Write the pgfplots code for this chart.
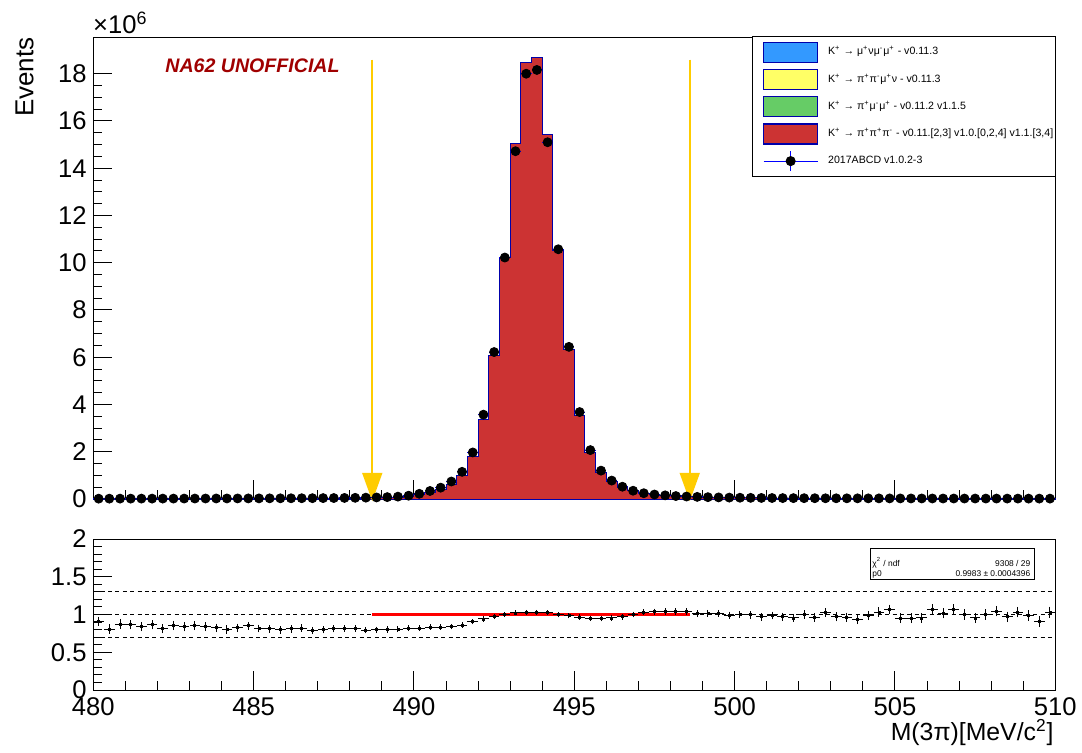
\documentclass[border=0pt]{standalone}
\usepackage{fontspec}
\setmainfont{Liberation Sans}
\usepackage{pgfplots}
\usepackage{pgfplotstable}
\pgfplotsset{compat=1.18}

\definecolor{mublue}{RGB}{51,153,255}
\definecolor{pipiyel}{RGB}{255,255,102}
\definecolor{mumugreen}{RGB}{102,204,102}
\definecolor{kthreered}{RGB}{204,51,51}
\definecolor{histline}{RGB}{0,0,170}
\definecolor{datablue}{RGB}{0,0,255}
\definecolor{arrowgold}{RGB}{255,204,0}
\definecolor{na62red}{RGB}{160,0,0}

% xe = bin low edge, xc = bin centre, d = data (x10^6), r = ratio, ey = ratio error, mc = stacked MC (x10^6)
\pgfplotstableread{
xe xc d r ey mc
480.0000 480.1667 0.015 0.910 0.030 0.0137
480.3333 480.5000 0.015 0.806 0.030 0.0121
480.6667 480.8333 0.016 0.874 0.030 0.0140
481.0000 481.1667 0.016 0.865 0.030 0.0138
481.3333 481.5000 0.017 0.842 0.030 0.0143
481.6667 481.8333 0.017 0.865 0.030 0.0147
482.0000 482.1667 0.018 0.811 0.030 0.0146
482.3333 482.5000 0.018 0.856 0.030 0.0154
482.6667 482.8333 0.019 0.838 0.030 0.0159
483.0000 483.1667 0.020 0.851 0.025 0.0170
483.3333 483.5000 0.021 0.838 0.025 0.0176
483.6667 483.8333 0.022 0.824 0.025 0.0181
484.0000 484.1667 0.023 0.802 0.025 0.0184
484.3333 484.5000 0.024 0.824 0.025 0.0198
484.6667 484.8333 0.025 0.851 0.020 0.0213
485.0000 485.1667 0.026 0.815 0.020 0.0212
485.3333 485.5000 0.028 0.811 0.020 0.0227
485.6667 485.8333 0.029 0.797 0.018 0.0231
486.0000 486.1667 0.031 0.811 0.018 0.0251
486.3333 486.5000 0.033 0.820 0.018 0.0271
486.6667 486.8333 0.035 0.788 0.016 0.0276
487.0000 487.1667 0.038 0.797 0.016 0.0303
487.3333 487.5000 0.041 0.811 0.015 0.0333
487.6667 487.8333 0.045 0.815 0.014 0.0367
488.0000 488.1667 0.050 0.815 0.013 0.0408
488.3333 488.5000 0.057 0.793 0.012 0.0452
488.6667 488.8333 0.066 0.797 0.011 0.0526
489.0000 489.1667 0.080 0.802 0.010 0.0642
489.3333 489.5000 0.100 0.806 0.009 0.0806
489.6667 489.8333 0.140 0.820 0.008 0.1148
490.0000 490.1667 0.220 0.820 0.007 0.1804
490.3333 490.5000 0.340 0.833 0.006 0.2832
490.6667 490.8333 0.480 0.833 0.005 0.3998
491.0000 491.1667 0.740 0.838 0.004 0.6201
491.3333 491.5000 1.150 0.860 0.004 0.9890
491.6667 491.8333 1.970 0.905 0.003 1.7829
492.0000 492.1667 3.570 0.941 0.003 3.3594
492.3333 492.5000 6.220 0.977 0.002 6.0769
492.6667 492.8333 10.220 1.000 0.002 10.220
493.0000 493.1667 14.720 1.021 0.002 15.029
493.3333 493.5000 18.000 1.026 0.002 18.468
493.6667 493.8333 18.160 1.029 0.002 18.687
494.0000 494.1667 15.100 1.022 0.002 15.432
494.3333 494.5000 10.570 0.995 0.002 10.517
494.6667 494.8333 6.440 0.984 0.002 6.337
495.0000 495.1667 3.680 0.966 0.003 3.555
495.3333 495.5000 2.070 0.946 0.003 1.958
495.6667 495.8333 1.200 0.946 0.004 1.135
496.0000 496.1667 0.780 0.955 0.005 0.745
496.3333 496.5000 0.520 0.969 0.006 0.504
496.6667 496.8333 0.350 1.000 0.007 0.350
497.0000 497.1667 0.245 1.031 0.008 0.2526
497.3333 497.5000 0.190 1.036 0.009 0.1968
497.6667 497.8333 0.155 1.041 0.010 0.1614
498.0000 498.1667 0.125 1.041 0.011 0.1301
498.3333 498.5000 0.105 1.036 0.012 0.1088
498.6667 498.8333 0.090 1.009 0.013 0.0908
499.0000 499.1667 0.078 1.014 0.014 0.0791
499.3333 499.5000 0.068 1.014 0.015 0.0690
499.6667 499.8333 0.060 0.991 0.016 0.0595
500.0000 500.1667 0.054 1.000 0.017 0.0540
500.3333 500.5000 0.049 0.995 0.018 0.0488
500.6667 500.8333 0.045 0.969 0.019 0.0436
501.0000 501.1667 0.042 0.986 0.020 0.0414
501.3333 501.5000 0.039 0.973 0.021 0.0379
501.6667 501.8333 0.037 0.955 0.022 0.0353
502.0000 502.1667 0.035 1.000 0.023 0.0350
502.3333 502.5000 0.033 0.964 0.025 0.0318
502.6667 502.8333 0.031 1.023 0.026 0.0317
503.0000 503.1667 0.030 0.969 0.027 0.0291
503.3333 503.5000 0.029 0.964 0.028 0.0280
503.6667 503.8333 0.028 0.932 0.029 0.0261
504.0000 504.1667 0.027 0.986 0.030 0.0266
504.3333 504.5000 0.026 1.031 0.031 0.0268
504.6667 504.8333 0.025 1.068 0.032 0.0267
505.0000 505.1667 0.024 0.950 0.032 0.0228
505.3333 505.5000 0.023 0.950 0.033 0.0219
505.6667 505.8333 0.023 0.955 0.033 0.0220
506.0000 506.1667 0.022 1.068 0.034 0.0235
506.3333 506.5000 0.021 1.014 0.034 0.0213
506.6667 506.8333 0.021 1.068 0.035 0.0224
507.0000 507.1667 0.020 1.000 0.035 0.0200
507.3333 507.5000 0.020 0.955 0.036 0.0191
507.6667 507.8333 0.019 1.000 0.036 0.0190
508.0000 508.1667 0.019 1.045 0.037 0.0199
508.3333 508.5000 0.018 0.969 0.037 0.0174
508.6667 508.8333 0.018 1.031 0.038 0.0186
509.0000 509.1667 0.017 0.986 0.038 0.0168
509.3333 509.5000 0.017 0.905 0.039 0.0154
509.6667 509.8333 0.016 1.031 0.040 0.0165
510.0000 nan nan nan nan 0.0165
}\bins

\pgfplotsset{
  rootaxis/.style={
    scale only axis, width=481pt,
    xmin=480, xmax=510,
    tick align=inside, xtick pos=bottom, ytick pos=left,
    xtick={480,485,...,510}, minor x tick num=4,
    major tick length=9.5pt, minor tick length=4.5pt,
    tick style={black, line width=0.5pt},
    axis line style={line width=0.5pt},
    /pgf/number format/assume math mode=true,
    tick label style={font=\fontsize{12.8}{14}\selectfont},
    yticklabel style={inner sep=0pt, xshift=-3.2pt},
    xticklabel style={inner sep=0pt, yshift=-3.6pt},
    clip=false,
  },
  swatch/.style={legend image code/.code={%
    \path (-5pt,0pt) (31.5pt,0pt);
    \draw[fill=#1, draw=histline, line width=0.6pt] (0pt,-5pt) rectangle (27pt,5pt);}},
}

\begin{document}
\begin{tikzpicture}
\path[use as bounding box] (0,0) rectangle (541pt,376pt);

\begin{axis}[rootaxis,
    at={(46.65pt,126.5pt)}, anchor=south west,
    height=230.6pt,
    ymin=0, ymax=19.52,
    ytick={0,2,...,18}, minor y tick num=3,
    xticklabels={},
    legend cell align=left,
    legend style={at={(1,1)}, anchor=north east, xshift=0.2pt, yshift=0.8pt,
        draw=black, line width=0.5pt, fill=white,
        font=\fontsize{5.3}{6.4}\selectfont,
        inner xsep=0.5pt, inner ysep=2.5pt, row sep=3.0pt,
        nodes={inner xsep=0.5pt, inner ysep=0pt}},
]
% stacked MC (only the K -> 3pi component is visible)
\addplot[const plot, fill=kthreered, draw=histline, line width=0.5pt, forget plot]
    table[x=xe, y=mc] {\bins} \closedcycle;

% cut arrows
\draw[arrowgold, line width=1pt] (axis cs:488.7,18.6) -- (axis cs:488.7,1.0);
\fill[arrowgold] (axis cs:488.38,1.11) -- (axis cs:489.02,1.11) -- (axis cs:488.7,-0.09) -- cycle;
\draw[arrowgold, line width=1pt] (axis cs:498.6,18.6) -- (axis cs:498.6,1.0);
\fill[arrowgold] (axis cs:498.28,1.11) -- (axis cs:498.92,1.11) -- (axis cs:498.6,-0.09) -- cycle;

% data
\addplot[only marks, mark=*, mark size=2.25pt, black, forget plot,
    error bars/.cd, x dir=both, x fixed=0.16667, error mark=none,
    error bar style={datablue, line width=0.5pt}]
    table[x=xc, y=d] {\bins};

\addlegendimage{swatch=mublue}
\addlegendentry{K\textsuperscript{+} → μ\textsuperscript{+}νμ\textsuperscript{-}μ\textsuperscript{+} - v0.11.3}
\addlegendimage{swatch=pipiyel}
\addlegendentry{K\textsuperscript{+} → π\textsuperscript{+}π\textsuperscript{-}μ\textsuperscript{+}ν - v0.11.3}
\addlegendimage{swatch=mumugreen}
\addlegendentry{K\textsuperscript{+} → π\textsuperscript{+}μ\textsuperscript{-}μ\textsuperscript{+} - v0.11.2 v1.1.5}
\addlegendimage{swatch=kthreered}
\addlegendentry{K\textsuperscript{+} → π\textsuperscript{+}π\textsuperscript{+}π\textsuperscript{-} - v0.11.[2,3] v1.0.[0,2,4] v1.1.[3,4]}
\addlegendimage{legend image code/.code={\path (-5pt,0pt) (31.5pt,0pt); \draw[datablue, line width=0.6pt] (0pt,0pt) -- (27pt,0pt); \draw[datablue, line width=0.6pt] (13.5pt,-5pt) -- (13.5pt,5pt); \fill[black] (13.5pt,0pt) circle (2.25pt);}}
\addlegendentry{2017ABCD v1.0.2-3}
\end{axis}

\begin{axis}[rootaxis,
    at={(46.65pt,31pt)}, anchor=south west,
    height=75.5pt,
    ymin=0, ymax=2,
    ytick={0,0.5,1,1.5,2}, minor y tick num=4,
]
\addplot[black, line width=0.4pt, dash pattern=on 2pt off 1.7pt, forget plot] coordinates {(480,1.3) (510,1.3)};
\addplot[black, line width=0.4pt, dash pattern=on 2pt off 1.7pt, forget plot] coordinates {(480,1.0) (510,1.0)};
\addplot[black, line width=0.4pt, dash pattern=on 2pt off 1.7pt, forget plot] coordinates {(480,0.7) (510,0.7)};
% constant fit
\addplot[red, line width=1.2pt, forget plot] coordinates {(488.7,0.9983) (498.6,0.9983)};
% ratio
\addplot[black, only marks, mark=square*, mark size=0.5pt, forget plot,
    error bars/.cd, x dir=both, x fixed=0.16667, error mark=none,
    error bar style={black, line width=0.5pt}]
    table[x=xc, y=r] {\bins};
\addplot[black, only marks, mark=square*, mark size=0.5pt, forget plot,
    error bars/.cd, y dir=both, y explicit,
    error bar style={black, line width=0.5pt},
    error mark options={black, mark size=1.2pt, line width=0.5pt}]
    table[x=xc, y=r, y error=ey] {\bins};
\end{axis}

% fit statistics box
\draw[black, line width=0.5pt, fill=white] (435pt,86.35pt) rectangle (517pt,102pt);
\node[anchor=base west, inner sep=0pt, font=\fontsize{4.2}{5}\selectfont] at (436pt,93pt) {χ\textsuperscript{2} / ndf};
\node[anchor=base east, inner sep=0pt, font=\fontsize{4.2}{5}\selectfont] at (515.3pt,93pt) {9308 / 29};
\node[anchor=base west, inner sep=0pt, font=\fontsize{4.2}{5}\selectfont] at (436pt,88pt) {p0};
\node[anchor=base east, inner sep=0pt, font=\fontsize{4.2}{5}\selectfont] at (515.3pt,88pt) {0.9983 ± 0.0004396};

% titles and labels
\node[anchor=base west, inner sep=0pt, font=\fontsize{12.8}{14}\selectfont] at (46.4pt,359.35pt) {×10\textsuperscript{6}};
\node[rotate=90, anchor=base east, inner sep=0pt, font=\fontsize{13}{15}\selectfont] at (16.65pt,357.5pt) {Events};
\node[anchor=base west, inner sep=0pt, text=na62red, font=\fontsize{9.8}{11}\selectfont\bfseries\itshape] at (82.5pt,339.65pt) {NA62 UNOFFICIAL};
\node[anchor=base east, inner sep=0pt, font=\fontsize{12.4}{14}\selectfont] at (527pt,6pt) {M(3π)[MeV/c\textsuperscript{2}]};
\end{tikzpicture}
\end{document}
